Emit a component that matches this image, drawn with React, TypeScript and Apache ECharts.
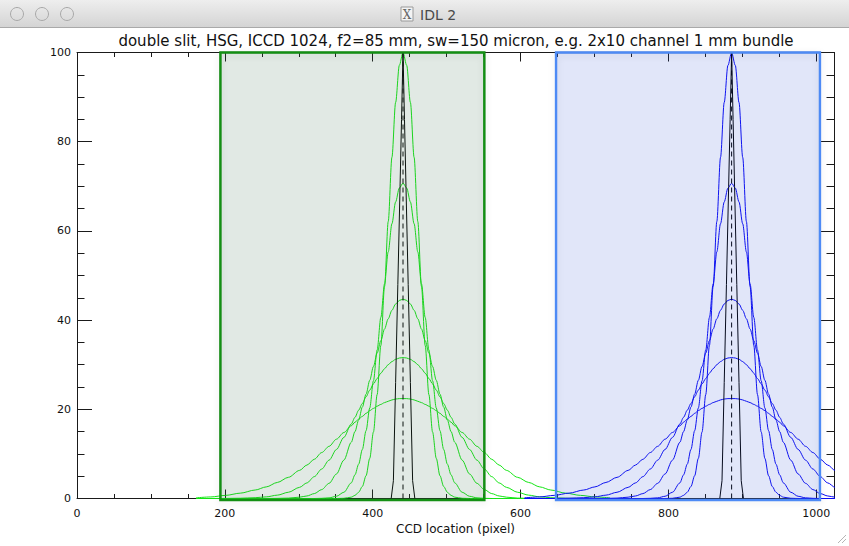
import React, { useEffect, useRef } from "react";
import * as echarts from "echarts";

// ---------- text ----------
const windowTitle = "IDL 2";
const chartTitle =
  "double slit, HSG, ICCD 1024, f2=85 mm, sw=150 micron, e.g. 2x10 channel 1 mm bundle";
const xAxisTitle = "CCD location (pixel)";

// ---------- axes ----------
const xMin = 0;
const xMax = 1024;
const yMin = 0;
const yMax = 100;
const xMajorStep = 200;
const xMinorStep = 50;
const yMajorStep = 20;
const yMinorStep = 5;

// ---------- channel centres (pixel) ----------
const greenCenter = 441;
const blueCenter = 885.5;

// ---------- highlighted boxes [xStart, xEnd, yStart, yEnd] ----------
const greenBox = [194, 551, 0, 100];
const blueBox = [648, 1005, 0, 100];

// ---------- half profiles (offset from centre, value) ----------
const profileOffsets = [
  0, 5, 10, 15, 20, 25, 30, 35, 40, 45, 50, 55, 60, 65, 70, 80, 90, 100, 110, 120, 130, 140, 155, 170, 185, 200, 220, 240, 260, 280,
];
const profile1 = [
  100, 97.1, 88.8, 76.5, 62.1, 47.5, 34.3, 23.3, 14.9, 9.0, 5.1, 2.7, 1.4, 0.7, 0.3, 0.05, 0, 0, 0, 0, 0, 0, 0, 0, 0, 0, 0, 0, 0, 0,
];
const profile2 = [
  70.7, 69.6, 66.5, 61.6, 55.3, 48.1, 40.6, 33.3, 26.4, 20.3, 15.2, 11.0, 7.7, 5.3, 3.5, 1.4, 0.5, 0.15, 0.04, 0, 0, 0, 0, 0, 0, 0, 0, 0, 0, 0,
];
const profile3 = [
  44.7, 44.4, 43.6, 42.2, 40.3, 38.0, 35.4, 32.6, 29.6, 26.5, 23.4, 20.5, 17.6, 15.0, 12.6, 8.6, 5.5, 3.4, 2.0, 1.1, 0.57, 0.3, 0.09, 0.03, 0, 0, 0, 0, 0, 0,
];
const profile4 = [
  31.6, 31.5, 31.2, 30.7, 30.0, 29.1, 28.1, 26.9, 25.7, 24.3, 22.8, 21.3, 19.8, 18.2, 16.7, 13.7, 11.0, 8.6, 6.6, 4.9, 3.5, 2.5, 1.4, 0.75, 0.37, 0.18, 0.06, 0.02, 0, 0,
];
const profile5 = [
  22.4, 22.4, 22.3, 22.1, 21.8, 21.5, 21.1, 20.7, 20.2, 19.7, 19.1, 18.4, 17.8, 17.1, 16.3, 14.8, 13.3, 11.7, 10.3, 8.8, 7.5, 6.3, 4.75, 3.6, 2.6, 1.9, 1.2, 0.7, 0.35, 0.15,
];

// slit image (black)
const slitOffsets = [0, 2, 4, 7, 10, 13, 16];
const slitProfile = [100, 85, 70, 48, 26, 4, 0];

const colorGreen = "#14e614";
const colorBlue = "#0a0af5";

function mirror(center: number, offsets: number[], values: number[]) {
  const pts: number[][] = [];
  for (let i = offsets.length - 1; i > 0; i--) pts.push([center - offsets[i], values[i]]);
  for (let i = 0; i < offsets.length; i++) pts.push([center + offsets[i], values[i]]);
  return pts;
}

const FONT = "DejaVu Sans";
const AX = "#1a1a1a";

function xAx(position: string, interval: number, len: number, line: boolean, labels: boolean, name?: string) {
  return {
    type: "value",
    position,
    min: xMin,
    max: xMax,
    interval,
    axisLine: { show: line, onZero: false, lineStyle: { color: AX, width: 1 } },
    axisTick: { show: true, inside: true, length: len, lineStyle: { color: AX, width: 1 } },
    axisLabel: {
      show: labels,
      showMaxLabel: false,
      margin: 9,
      color: "#111",
      fontFamily: FONT,
      fontSize: 11,
      formatter: (v: number) => String(v),
    },
    splitLine: { show: false },
    name,
    nameLocation: "middle",
    nameGap: 23,
    nameTextStyle: { color: "#111", fontFamily: FONT, fontSize: 12 },
  };
}

function yAx(position: string, interval: number, len: number, line: boolean, labels: boolean) {
  return {
    type: "value",
    position,
    min: yMin,
    max: yMax,
    interval,
    axisLine: { show: line, onZero: false, lineStyle: { color: AX, width: 1 } },
    axisTick: { show: true, inside: true, length: len, lineStyle: { color: AX, width: 1 } },
    axisLabel: { show: labels, margin: 6, color: "#111", fontFamily: FONT, fontSize: 11 },
    splitLine: { show: false },
  };
}

function curve(center: number, offs: number[], vals: number[], color: string, smooth: boolean) {
  return {
    type: "line",
    data: mirror(center, offs, vals),
    showSymbol: false,
    symbol: "none",
    smooth: smooth ? 0.3 : false,
    smoothMonotone: "x",
    lineStyle: { color, width: 1 },
    z: 3,
    silent: true,
  };
}

function dashed(center: number) {
  return {
    type: "line",
    data: [
      [center, yMin],
      [center, yMax],
    ],
    showSymbol: false,
    symbol: "none",
    lineStyle: { color: "#000", width: 1, type: [5, 4] },
    z: 4,
    silent: true,
  };
}

function box(range: number[], fill: string, stroke: string) {
  return {
    type: "custom",
    data: [range],
    clip: false,
    z: 10,
    silent: true,
    encode: { x: [0, 1], y: [2, 3] },
    renderItem: (_p: any, api: any) => {
      const a = api.coord([api.value(0), api.value(3)]);
      const b = api.coord([api.value(1), api.value(2)]);
      const shape = { x: a[0], y: a[1], width: b[0] - a[0], height: b[1] - a[1] + 1.5 };
      return {
        type: "group",
        children: [
          {
            type: "rect",
            shape,
            style: {
              fill: "none",
              stroke: "rgba(0,0,0,0.25)",
              lineWidth: 2,
              shadowBlur: 7,
              shadowOffsetY: 2,
              shadowColor: "rgba(0,0,0,0.45)",
            },
          },
          { type: "rect", shape, style: { fill, stroke, lineWidth: 2.4 } },
        ],
      };
    },
  };
}

export default function App() {
  const ref = useRef<HTMLDivElement>(null);
  useEffect(() => {
    if (!ref.current) return;
    const chart = echarts.init(ref.current, undefined, { renderer: "svg" });
    const profiles = [profile1, profile2, profile3, profile4, profile5];
    const series: any[] = [];
    profiles.forEach((p) => series.push(curve(greenCenter, profileOffsets, p, colorGreen, true)));
    profiles.forEach((p) => series.push(curve(blueCenter, profileOffsets, p, colorBlue, true)));
    series.push(curve(greenCenter, slitOffsets, slitProfile, "#000", false));
    series.push(curve(blueCenter, slitOffsets, slitProfile, "#000", false));
    series.push(dashed(greenCenter));
    series.push(dashed(blueCenter));
    series.push(box(greenBox, "rgba(70,120,90,0.16)", "#138f13"));
    series.push(box(blueBox, "rgba(40,80,210,0.14)", "#4d8af5"));

    chart.setOption({
      animation: false,
      backgroundColor: "#ffffff",
      grid: { left: 77, top: 52.5, width: 757, height: 446, containLabel: false },
      xAxis: [
        xAx("bottom", xMajorStep, 9, true, true, xAxisTitle),
        xAx("bottom", xMinorStep, 4.5, false, false),
        xAx("top", xMajorStep, 9, true, false),
        xAx("top", xMinorStep, 4.5, false, false),
      ],
      yAxis: [
        yAx("left", yMajorStep, 15, true, true),
        yAx("left", yMinorStep, 7.5, false, false),
        yAx("right", yMajorStep, 15, true, false),
        yAx("right", yMinorStep, 7.5, false, false),
      ],
      series,
      graphic: [
        {
          type: "rect",
          shape: { x: 0, y: 0, width: 849, height: 27 },
          style: {
            fill: {
              type: "linear",
              x: 0,
              y: 0,
              x2: 0,
              y2: 1,
              colorStops: [
                { offset: 0, color: "#eeeeee" },
                { offset: 1, color: "#d4d4d4" },
              ],
            },
          },
          z: 0,
        },
        { type: "line", shape: { x1: 0, y1: 27.5, x2: 849, y2: 27.5 }, style: { stroke: "#a9a9a9", lineWidth: 1 } },
        { type: "circle", shape: { cx: 17, cy: 14, r: 6.5 }, style: { fill: "none", stroke: "#a8a8a8", lineWidth: 1 } },
        { type: "circle", shape: { cx: 42, cy: 14, r: 6.5 }, style: { fill: "none", stroke: "#a8a8a8", lineWidth: 1 } },
        { type: "circle", shape: { cx: 67, cy: 14, r: 6.5 }, style: { fill: "none", stroke: "#a8a8a8", lineWidth: 1 } },
        {
          type: "rect",
          shape: { x: 401, y: 7, width: 12, height: 14 },
          style: { fill: "#f4f4f4", stroke: "#9a9a9a", lineWidth: 1 },
        },
        {
          type: "text",
          x: 407,
          y: 14.5,
          style: {
            text: "X",
            textAlign: "center",
            textVerticalAlign: "middle",
            font: "12px 'DejaVu Serif'",
            fill: "#666",
          },
        },
        {
          type: "text",
          x: 420,
          y: 14.5,
          style: {
            text: windowTitle,
            textAlign: "left",
            textVerticalAlign: "middle",
            font: "14px 'DejaVu Sans'",
            fill: "#4a4a4a",
          },
        },
        {
          type: "text",
          x: 456,
          y: 41,
          style: {
            text: chartTitle,
            textAlign: "center",
            textVerticalAlign: "middle",
            font: "15px 'DejaVu Sans'",
            fill: "#111",
          },
        },
        { type: "line", shape: { x1: 838, y1: 543, x2: 846, y2: 535 }, style: { stroke: "#b5b5b5", lineWidth: 1 } },
        { type: "line", shape: { x1: 842, y1: 543, x2: 846, y2: 539 }, style: { stroke: "#b5b5b5", lineWidth: 1 } },
      ],
    });
    return () => chart.dispose();
  }, []);
  return (
    <div
      ref={ref}
      style={{ position: "fixed", left: 0, top: 0, width: 849, height: 546, background: "#fff" }}
    />
  );
}
